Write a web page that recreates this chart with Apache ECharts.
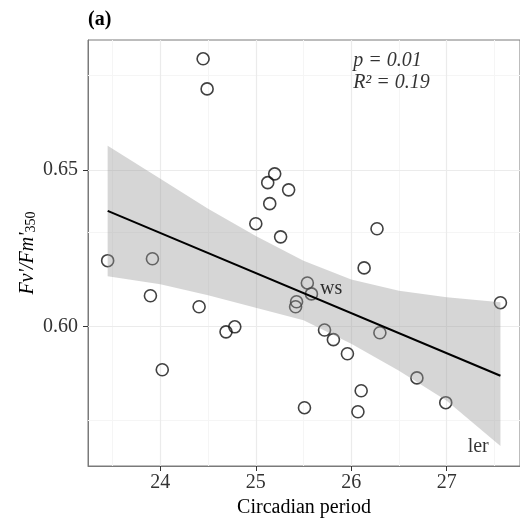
<!DOCTYPE html>
<html>
<head>
<meta charset="utf-8">
<script src="https://cdn.jsdelivr.net/npm/echarts@6/dist/echarts.min.js"></script>
<style>html,body{margin:0;padding:0;background:#fff;}#c{width:520px;height:525px;}</style>
</head>
<body>
<div id="c"></div>
<script>
// ---- data ----
const periodX = [23.448, 23.917, 23.896, 24.406, 24.688, 24.780, 24.020, 24.448, 24.490, 25.000,
                 25.198, 25.125, 25.344, 25.146, 25.260, 26.270, 26.135, 25.540, 25.583, 25.427,
                 25.417, 27.563, 25.720, 25.813, 26.300, 25.960, 26.688, 26.104, 26.990, 25.510, 26.070];
const fvfmY   = [0.6210, 0.6216, 0.6098, 0.6063, 0.5983, 0.5999, 0.5862, 0.6854, 0.6758, 0.6328,
                 0.6487, 0.6459, 0.6436, 0.6392, 0.6286, 0.6312, 0.6187, 0.6139, 0.6104, 0.6079,
                 0.6063, 0.6076, 0.5989, 0.5958, 0.5980, 0.5913, 0.5836, 0.5795, 0.5757, 0.5741, 0.5728];
const fitX = [23.448, 27.563];
const fitY = [0.6369, 0.5843];
const bandX     = [23.448, 24.0, 24.5, 25.0, 25.5, 26.0, 26.5, 27.0, 27.563];
const bandUpper = [0.6577, 0.6471, 0.6376, 0.6289, 0.6210, 0.6150, 0.6114, 0.6093, 0.6077];
const bandLower = [0.6160, 0.6135, 0.6100, 0.6060, 0.6020, 0.5945, 0.5859, 0.5763, 0.5619];
const xTicks = [24, 25, 26, 27];
const xMinor = [23.5, 24.5, 25.5, 26.5, 27.5];
const yTicks = [0.60, 0.65];
const yMinor = [0.575, 0.625, 0.675];
const annotations = [
  {x: 25.79, y: 0.6120, text: 'ws'},
  {x: 27.33, y: 0.5616, text: 'ler'}
];
const statText = {x: 26.02, y1: 0.6848, y2: 0.6778, p: 'p = 0.01', r: 'R² = 0.19'};

// ---- chart ----
const FONT = '"Liberation Serif", "DejaVu Serif", serif';
const chart = echarts.init(document.getElementById('c'), null, {renderer: 'canvas'});

const gridLines = [];
xMinor.forEach(v => gridLines.push({xAxis: v, lineStyle: {color: '#f5f5f5', width: 1, type: 'solid'}}));
yMinor.forEach(v => gridLines.push({yAxis: v, lineStyle: {color: '#f5f5f5', width: 1, type: 'solid'}}));
xTicks.forEach(v => gridLines.push({xAxis: v, lineStyle: {color: '#ebebeb', width: 1.2, type: 'solid'}}));
yTicks.forEach(v => gridLines.push({yAxis: v, lineStyle: {color: '#ebebeb', width: 1.2, type: 'solid'}}));

chart.setOption({
  animation: false,
  textStyle: {fontFamily: FONT},
  grid: {left: 88, top: 40, right: -3, bottom: 59, show: true, borderColor: '#7a7a7a', borderWidth: 1, backgroundColor: '#fff'},
  xAxis: {
    type: 'value', min: 23.242, max: 27.768,
    axisLine: {show: true, onZero: false, lineStyle: {color: '#7a7a7a', width: 1}},
    axisTick: {show: true, length: 5, lineStyle: {color: '#333', width: 1}, customValues: xTicks},
    axisLabel: {customValues: xTicks, fontSize: 20, color: '#333', fontFamily: FONT, margin: 7},
    splitLine: {show: false},
    name: 'Circadian period', nameLocation: 'middle', nameGap: 32,
    nameTextStyle: {fontSize: 20, color: '#000', fontFamily: FONT}
  },
  yAxis: {
    type: 'value', min: 0.5555, max: 0.6914,
    axisLine: {show: true, onZero: false, lineStyle: {color: '#7a7a7a', width: 1}},
    axisTick: {show: true, length: 5, lineStyle: {color: '#333', width: 1}, customValues: yTicks},
    axisLabel: {customValues: yTicks, fontSize: 20, color: '#333', fontFamily: FONT, margin: 10,
                formatter: v => v.toFixed(2)},
    splitLine: {show: false}
  },
  graphic: [
    {type: 'text', left: 88, top: 10, style: {text: '(a)', font: 'bold 20px ' + FONT, fill: '#000'}},
    {type: 'text', x: 24, y: 253, rotation: Math.PI / 2,
     style: {text: "{i|Fv'/Fm'}{s|350}", align: 'center', verticalAlign: 'middle',
             rich: {i: {fontSize: 20, fontStyle: 'italic', fontFamily: FONT, fill: '#000', lineHeight: 28, verticalAlign: 'bottom'},
                    s: {fontSize: 14, fontFamily: FONT, fill: '#000', lineHeight: 22, verticalAlign: 'bottom'}}}}
  ],
  series: [
    {
      type: 'scatter', data: [], z: 1, silent: true,
      markLine: {z: 1, silent: true, symbol: ['none', 'none'], label: {show: false}, animation: false, data: gridLines}
    },
    {
      type: 'scatter', z: 2, symbol: 'circle', symbolSize: 12,
      data: periodX.map((x, i) => [x, fvfmY[i]]),
      itemStyle: {color: 'rgba(0,0,0,0)', borderColor: '#111', borderWidth: 1.6}
    },
    {
      type: 'custom', z: 3, silent: true, data: [[bandX[0], bandUpper[0]]],
      renderItem: function (params, api) {
        const pts = [];
        for (let i = 0; i < bandX.length; i++) pts.push(api.coord([bandX[i], bandUpper[i]]));
        for (let i = bandX.length - 1; i >= 0; i--) pts.push(api.coord([bandX[i], bandLower[i]]));
        return {type: 'polygon', shape: {points: pts, smooth: 0}, style: {fill: 'rgba(153,153,153,0.4)', stroke: null}};
      }
    },
    {
      type: 'line', z: 4, symbol: 'none', silent: true,
      data: fitX.map((x, i) => [x, fitY[i]]),
      lineStyle: {color: '#000', width: 2}
    },
    {
      type: 'scatter', z: 5, symbolSize: 0, silent: true,
      data: annotations.map(a => ({value: [a.x, a.y], name: a.text})),
      label: {show: true, position: 'inside', formatter: p => p.name, fontSize: 20, color: '#000', fontFamily: FONT}
    },
    {
      type: 'scatter', z: 5, symbolSize: 0, silent: true,
      data: [{value: [statText.x, statText.y1], name: statText.p}, {value: [statText.x, statText.y2], name: statText.r}],
      label: {show: true, position: 'right', distance: 0, formatter: p => p.name, fontSize: 20, fontStyle: 'italic', color: '#000', fontFamily: FONT}
    }
  ]
});
</script>
</body>
</html>
